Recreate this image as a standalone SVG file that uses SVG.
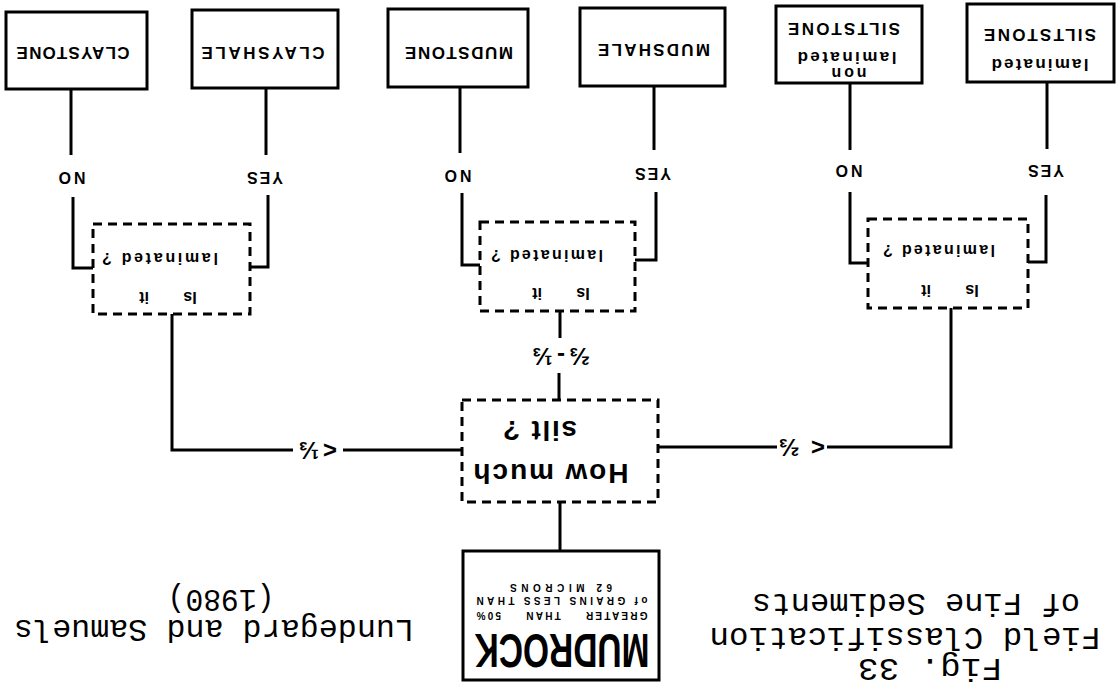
<svg xmlns="http://www.w3.org/2000/svg" width="1117" height="683" viewBox="0 0 1117 683">
<style>
.box{fill:#fff;stroke:#000;stroke-width:3}
.dbox{fill:none;stroke:#000;stroke-width:3;stroke-dasharray:9 6}
.ln{fill:none;stroke:#000;stroke-width:3}
text{font-family:"Liberation Sans",Arial,sans-serif;font-weight:bold;fill:#000;text-anchor:middle;dominant-baseline:central}
.cap{font-size:17px}
.sm{font-size:16px}
.q{font-size:28px}
.fr{font-size:24px}
.tiny{font-size:10px}
.mono{font-family:"Liberation Mono","Courier New",monospace;font-weight:normal;font-size:31px}
</style>
<rect width="1117" height="683" fill="#fff"/>
<g id="connectors">
<path class="ln" d="M71 89V155"/>
<path class="ln" d="M73 197V268H93"/>
<path class="ln" d="M266 88V155"/>
<path class="ln" d="M268 195V267H250"/>
<path class="ln" d="M460 87V153"/>
<path class="ln" d="M462 193V265H480"/>
<path class="ln" d="M654 86V150"/>
<path class="ln" d="M656 192V260H635"/>
<path class="ln" d="M850 83V150"/>
<path class="ln" d="M850 192V263H868"/>
<path class="ln" d="M1047 82V149"/>
<path class="ln" d="M1046 195V262H1028"/>
<path class="ln" d="M172 314V450H293"/>
<path class="ln" d="M343 450H462"/>
<path class="ln" d="M560 311V338"/>
<path class="ln" d="M559 373V400"/>
<path class="ln" d="M658 447H777"/>
<path class="ln" d="M827 447H951V308"/>
<path class="ln" d="M560 502V551"/>
<text class="sm" x="72" y="177" transform="rotate(180 72 177)" textLength="27">NO</text>
<text class="sm" x="265" y="177" transform="rotate(180 265 177)" textLength="36">YES</text>
<text class="sm" x="458" y="175" transform="rotate(180 458 175)" textLength="27">NO</text>
<text class="sm" x="653" y="173" transform="rotate(180 653 173)" textLength="36">YES</text>
<text class="sm" x="849" y="170" transform="rotate(180 849 170)" textLength="27">NO</text>
<text class="sm" x="1046" y="170" transform="rotate(180 1046 170)" textLength="36">YES</text>
<text class="fr" x="318" y="450" transform="rotate(180 318 450)" textLength="38">&lt; ⅓</text>
<text class="fr" x="802" y="447" transform="rotate(180 802 447)" textLength="46">&lt;⅔</text>
<text class="fr" x="561" y="356" transform="rotate(180 561 356)" textLength="57">⅔-⅓</text>
</g>
<g id="claystone">
<rect class="box" x="6" y="12" width="141" height="77"/>
<text class="cap" x="73" y="52" transform="rotate(180 73 52)" textLength="113">CLAYSTONE</text>
</g>
<g id="clayshale">
<rect class="box" x="192" y="10" width="146" height="78"/>
<text class="cap" x="263" y="52" transform="rotate(180 263 52)" textLength="123">CLAYSHALE</text>
</g>
<g id="mudstone">
<rect class="box" x="388" y="9" width="140" height="78"/>
<text class="cap" x="459" y="52" transform="rotate(180 459 52)" textLength="108">MUDSTONE</text>
</g>
<g id="mudshale">
<rect class="box" x="580" y="8" width="145" height="78"/>
<text class="cap" x="654" y="49" transform="rotate(180 654 49)" textLength="112">MUDSHALE</text>
</g>
<g id="nonlaminated-siltstone">
<rect class="box" x="776" y="6" width="146" height="77"/>
<text class="sm" x="849" y="73" transform="rotate(180 849 73)" textLength="35">non</text>
<text class="cap" x="847" y="57" transform="rotate(180 847 57)" textLength="99">laminated</text>
<text class="cap" x="844" y="28" transform="rotate(180 844 28)" textLength="112">SILTSTONE</text>
</g>
<g id="laminated-siltstone">
<rect class="box" x="967" y="4" width="147" height="78"/>
<text class="cap" x="1040" y="64" transform="rotate(180 1040 64)" textLength="97">laminated</text>
<text class="cap" x="1040" y="34" transform="rotate(180 1040 34)" textLength="112">SILTSTONE</text>
</g>
<g id="laminated-q1">
<rect class="dbox" x="93" y="224" width="157" height="90"/>
<text class="sm" x="168" y="297" transform="rotate(180 168 297)" word-spacing="30">Is it</text>
<text class="sm" x="160" y="258" transform="rotate(180 160 258)" textLength="116">laminated ?</text>
</g>
<g id="laminated-q2">
<rect class="dbox" x="480" y="222" width="155" height="89"/>
<text class="sm" x="561" y="293" transform="rotate(180 561 293)" word-spacing="30">Is it</text>
<text class="sm" x="547" y="255" transform="rotate(180 547 255)" textLength="112">laminated ?</text>
</g>
<g id="laminated-q3">
<rect class="dbox" x="868" y="219" width="160" height="89"/>
<text class="sm" x="950" y="290" transform="rotate(180 950 290)" word-spacing="30">Is it</text>
<text class="sm" x="939" y="250" transform="rotate(180 939 250)" textLength="112">laminated ?</text>
</g>
<g id="how-much-silt">
<rect class="dbox" x="462" y="400" width="196" height="102"/>
<text class="q" x="551" y="473" transform="rotate(180 551 473)" textLength="155">How much</text>
<text class="q" x="540" y="430" transform="rotate(180 540 430)" textLength="74">silt ?</text>
</g>
<g id="mudrock">
<rect class="box" x="463" y="551" width="196" height="129"/>
<text x="562" y="650" transform="rotate(180 562 650)" style="font-size:48px" textLength="175" lengthAdjust="spacingAndGlyphs">MUDROCK</text>
<text class="tiny" x="562" y="615" transform="rotate(180 562 615)" textLength="171" word-spacing="18">GREATER THAN 50%</text>
<text class="tiny" x="562" y="600" transform="rotate(180 562 600)" textLength="171">of GRAINS LESS THAN</text>
<text class="tiny" x="561" y="587" transform="rotate(180 561 587)" textLength="102">62 MICRONS</text>
</g>
<g id="caption-source">
<text class="mono" x="214" y="628" transform="rotate(180 214 628)" textLength="400" lengthAdjust="spacingAndGlyphs">Lundegard and Samuels</text>
<text class="mono" x="221" y="598" transform="rotate(180 221 598)" textLength="107" lengthAdjust="spacingAndGlyphs">(1980)</text>
</g>
<g id="caption-title">
<text class="mono" x="930" y="667" transform="rotate(180 930 667)" textLength="144" lengthAdjust="spacingAndGlyphs">Fig. 33</text>
<text class="mono" x="905" y="636" transform="rotate(180 905 636)" textLength="391" lengthAdjust="spacingAndGlyphs">Field Classification</text>
<text class="mono" x="916" y="602" transform="rotate(180 916 602)" textLength="328" lengthAdjust="spacingAndGlyphs">of Fine Sediments</text>
</g>
</svg>
